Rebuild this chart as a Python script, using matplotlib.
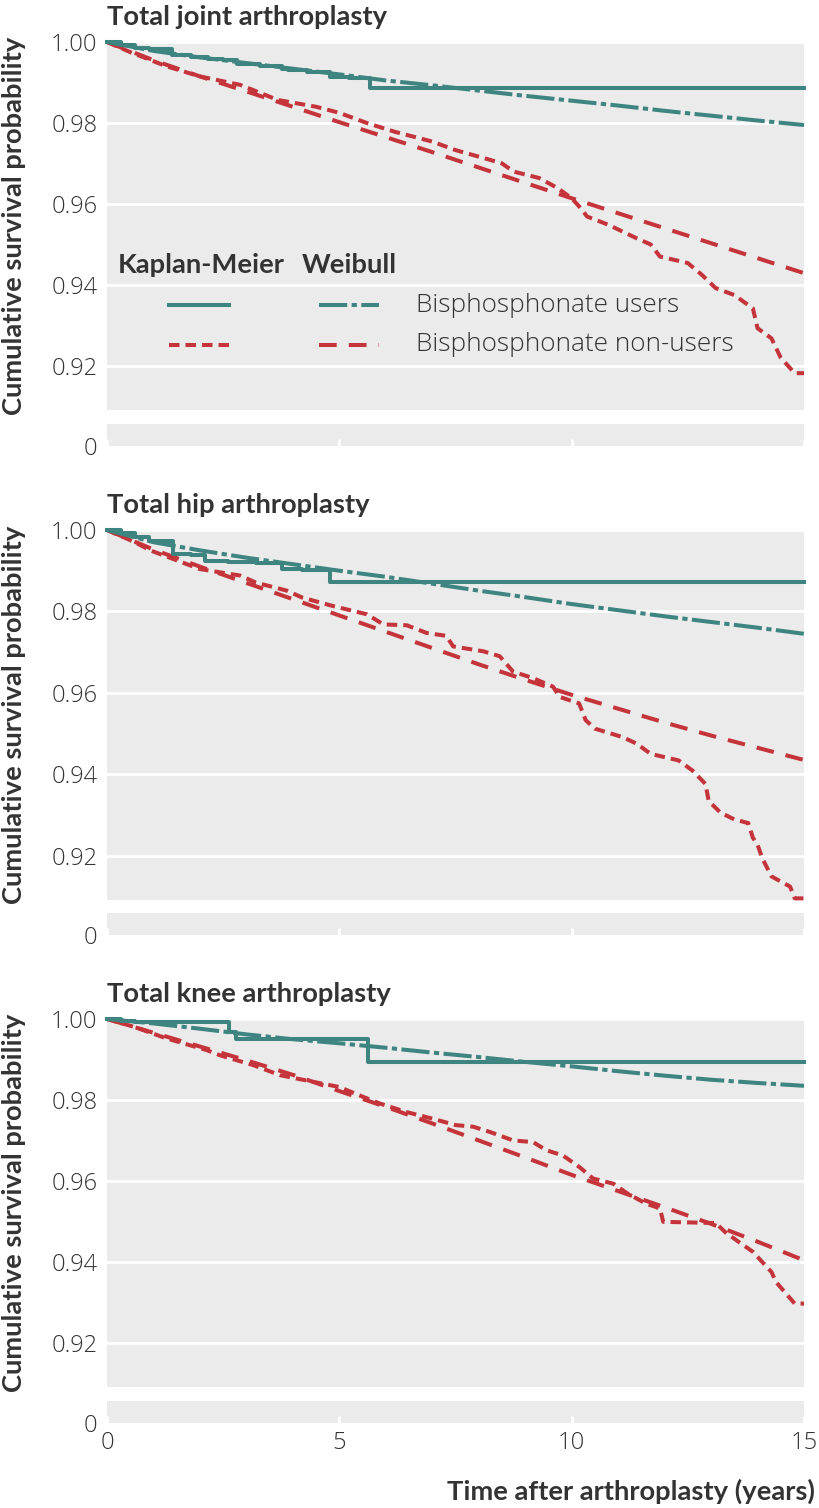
import matplotlib
matplotlib.use("Agg")
import matplotlib.pyplot as plt
from matplotlib.lines import Line2D

# ---------------- data ----------------
panel_titles = ["Total joint arthroplasty", "Total hip arthroplasty", "Total knee arthroplasty"]
series_labels = ["Bisphosphonate users", "Bisphosphonate non-users"]
method_labels = ["Kaplan-Meier", "Weibull"]
y_ticks = [0.92, 0.94, 0.96, 0.98, 1.00]
x_ticks = [0, 5, 10, 15]

# Kaplan-Meier, bisphosphonate users
km_users_t_joint = [0, 0.3, 0.6, 0.9, 1.39, 1.8, 2.17, 2.5, 2.79, 3.3, 3.76, 3.9, 4.3, 4.8, 5.2, 5.66, 15]
km_users_s_joint = [1.0, 0.9993, 0.9986, 0.9982, 0.9968, 0.9964, 0.9958, 0.9955, 0.9945, 0.9941, 0.9934,
                    0.9930, 0.9927, 0.9914, 0.9910, 0.9886, 0.9886]
km_users_t_hip = [0, 0.3, 0.6, 0.9, 1.43, 1.8, 2.11, 2.6, 3.2, 3.76, 4.2, 4.8, 15]
km_users_s_hip = [1.0, 0.9992, 0.9982, 0.9972, 0.9941, 0.9938, 0.9925, 0.9922, 0.9920, 0.9904, 0.9902,
                  0.9872, 0.9872]
km_users_t_knee = [0, 0.3, 0.6, 2.62, 2.77, 5.62, 15]
km_users_s_knee = [1.0, 0.9996, 0.9993, 0.9969, 0.9950, 0.9895, 0.9895]

# Kaplan-Meier, bisphosphonate non-users
km_non_t_joint = [0, 0.5, 1.28, 2.0, 2.87, 3.67, 4.5, 5.0, 5.59, 6.2, 7.0, 7.5, 8.24, 8.5, 8.75, 9.3, 9.7,
                  10.0, 10.2, 10.33, 10.8, 11.4, 11.7, 11.9, 12.5, 12.8, 13.1, 13.5, 13.9, 14.0, 14.3,
                  14.4, 14.5, 14.8, 15]
km_non_s_joint = [1.0, 0.9975, 0.994, 0.9915, 0.9894, 0.9857, 0.984, 0.9825, 0.980, 0.9778, 0.9754, 0.9733,
                  0.9709, 0.970, 0.968, 0.9664, 0.9639, 0.9614, 0.9589, 0.9569, 0.9548, 0.9515, 0.950,
                  0.947, 0.9454, 0.9425, 0.9392, 0.9375, 0.9342, 0.9293, 0.9268, 0.9244, 0.922, 0.9182,
                  0.9182]
km_non_t_hip = [0, 0.6, 0.93, 2.0, 2.87, 3.2, 3.87, 4.2, 4.87, 5.59, 5.95, 6.45, 6.88, 7.3, 7.45, 8.1,
                8.45, 8.74, 9.17, 9.6, 9.74, 10.16, 10.3, 10.5, 11.1, 11.4, 11.7, 12.3, 12.6, 12.88,
                12.95, 13.2, 13.5, 13.8, 13.9, 14.0, 14.1, 14.3, 14.7, 14.8, 15]
km_non_s_hip = [1.0, 0.997, 0.995, 0.9904, 0.9888, 0.9871, 0.9851, 0.9834, 0.9813, 0.9793, 0.9768,
                0.9766, 0.9747, 0.974, 0.9714, 0.9702, 0.969, 0.9652, 0.9636, 0.9615, 0.959, 0.9574,
                0.9533, 0.9512, 0.9491, 0.9475, 0.945, 0.9434, 0.9409, 0.9376, 0.9334, 0.9306, 0.9289,
                0.928, 0.9244, 0.9227, 0.9194, 0.9149, 0.9124, 0.9095, 0.9095]
km_non_t_knee = [0, 0.6, 1.28, 2.15, 2.44, 3.15, 3.73, 5.0, 5.44, 5.88, 6.45, 7.0, 7.5, 7.88, 8.24,
                 8.74, 9.17, 9.45, 9.81, 10.17, 10.46, 10.9, 11.2, 11.6, 11.9, 11.97, 13.1, 13.3, 13.6,
                 13.9, 14.3, 14.4, 14.8, 15]
km_non_s_knee = [1.0, 0.998, 0.9952, 0.9923, 0.991, 0.9886, 0.9861, 0.9832, 0.9811, 0.9791, 0.977,
                 0.9754, 0.9738, 0.9734, 0.9721, 0.970, 0.9696, 0.9676, 0.9663, 0.9634, 0.9606, 0.9593,
                 0.9569, 0.9544, 0.9532, 0.9499, 0.9496, 0.9474, 0.9449, 0.9425, 0.9375, 0.935, 0.9297,
                 0.9297]

# Weibull fits (read at whole years 0..15)
weib_t = list(range(16))
weib_users_joint = [1.0, 0.9978, 0.9962, 0.9948, 0.9934, 0.9920, 0.9905, 0.9893, 0.9880, 0.9867, 0.9855,
                    0.9843, 0.9830, 0.9818, 0.9806, 0.9795]
weib_non_joint = [1.0, 0.9955, 0.9915, 0.9878, 0.9840, 0.9802, 0.9765, 0.9728, 0.9690, 0.9652, 0.9614,
                  0.9577, 0.9540, 0.9503, 0.9466, 0.9429]
weib_users_hip = [1.0, 0.9970, 0.9950, 0.9932, 0.9916, 0.9900, 0.9885, 0.9868, 0.9851, 0.9835, 0.9818,
                  0.9803, 0.9788, 0.9774, 0.9760, 0.9745]
weib_non_hip = [1.0, 0.9952, 0.9910, 0.9870, 0.9830, 0.9790, 0.9750, 0.9710, 0.9670, 0.9632, 0.9595,
                0.9561, 0.9527, 0.9495, 0.9465, 0.9435]
weib_users_knee = [1.0, 0.9989, 0.9976, 0.9962, 0.9950, 0.9940, 0.9929, 0.9917, 0.9906, 0.9894, 0.9883,
                   0.9871, 0.9860, 0.9850, 0.9842, 0.9835]
weib_non_knee = [1.0, 0.9966, 0.9932, 0.9898, 0.9862, 0.9822, 0.9783, 0.9742, 0.9700, 0.9658, 0.9615,
                 0.9575, 0.9535, 0.9494, 0.9450, 0.9404]

panels = [
    (km_users_t_joint, km_users_s_joint, km_non_t_joint, km_non_s_joint, weib_users_joint, weib_non_joint),
    (km_users_t_hip, km_users_s_hip, km_non_t_hip, km_non_s_hip, weib_users_hip, weib_non_hip),
    (km_users_t_knee, km_users_s_knee, km_non_t_knee, km_non_s_knee, weib_users_knee, weib_non_knee),
]

# ---------------- style ----------------
TEAL = "#3E8480"
RED = "#C4343A"
BG = "#EBEBEB"
TXT = "#333333"
REG = "Open Sans"
BOLD = "Lato"
LW = 2.9
BOLD_SIZE = 19.7
TICK_SIZE = 17
LEG_SIZE = 18.8
ls_km_users = "-"
ls_km_non = (0, (2.6, 1.5))
ls_wb_users = (0, (7.0, 1.1, 1.3, 1.1))
ls_wb_non = (0, (4.4, 3.0))

W, H = 820, 1508
fig = plt.figure(figsize=(W / 100, H / 100), dpi=100)

def fx(px):
    return px / W

def fy(py):
    return 1 - py / H

left, right = 107, 804
# (main top, main bottom, strip top, strip bottom) in pixels
geoms = [(42, 410, 424, 446), (530, 900, 913, 935), (1019, 1387, 1401, 1423)]

for i, (geo, data, title) in enumerate(zip(geoms, panels, panel_titles)):
    mt, mb, st, sb = geo
    ax = fig.add_axes([fx(left), fy(mb), fx(right - left), (mb - mt) / H])
    sx = fig.add_axes([fx(left), fy(sb), fx(right - left), (sb - st) / H])
    ku_t, ku_s, kn_t, kn_s, wu, wn = data

    for a in (ax, sx):
        a.set_facecolor(BG)
        for sp in a.spines.values():
            sp.set_visible(False)
        a.set_xlim(0, 15)

    ax.set_ylim(0.9091, 1.0)
    ax.set_yticks(y_ticks)
    ax.set_yticklabels([f"{v:.2f}" for v in y_ticks])
    ax.set_xticks([])
    ax.tick_params(axis="y", length=0, pad=7, labelsize=TICK_SIZE, labelcolor=TXT)
    for lab in ax.get_yticklabels():
        lab.set_fontfamily(REG)
        lab.set_fontweight("light")
    ax.grid(axis="y", color="white", lw=2.0)
    ax.set_axisbelow(True)

    ax.plot(weib_t, wn, color=RED, lw=LW, ls=ls_wb_non, clip_on=False, zorder=3)
    ax.plot(kn_t, kn_s, color=RED, lw=LW, ls=ls_km_non, clip_on=False, zorder=4)
    ax.plot(weib_t, wu, color=TEAL, lw=LW, ls=ls_wb_users, clip_on=False, zorder=5)
    ax.plot(ku_t, ku_s, color=TEAL, lw=LW, ls=ls_km_users, drawstyle="steps-post", clip_on=False, zorder=6)

    ax.annotate(title, xy=(0, 1), xycoords="axes fraction", xytext=(0, 12.5), textcoords="offset points",
                ha="left", va="baseline", fontsize=BOLD_SIZE, fontweight="bold", family=BOLD, color=TXT)

    # strip (broken axis down to 0)
    sx.set_ylim(0, 1)
    sx.set_yticks([0])
    sx.set_yticklabels(["0"])
    sx.tick_params(axis="y", length=0, pad=7, labelsize=TICK_SIZE, labelcolor=TXT)
    sx.set_xticks(x_ticks)
    sx.tick_params(axis="x", direction="in", length=5, width=2, color="white",
                   labelsize=TICK_SIZE, labelcolor=TXT, pad=6)
    if i < 2:
        sx.set_xticklabels([])
    for lab in sx.get_yticklabels() + sx.get_xticklabels():
        lab.set_fontfamily(REG)
        lab.set_fontweight("light")

    # y label centered on main axes
    fig.text(fx(14), fy((mt + mb) / 2), "Cumulative survival probability", rotation=90,
             ha="center", va="center", fontsize=BOLD_SIZE, fontweight="bold", family=BOLD, color=TXT)

    if i == 0:
        # custom legend
        tr = ax.transAxes
        ax.text(0.135, 0.372, method_labels[0], transform=tr, ha="center", va="baseline",
                fontsize=BOLD_SIZE, fontweight="bold", family=BOLD, color=TXT)
        ax.text(0.347, 0.372, method_labels[1], transform=tr, ha="center", va="baseline",
                fontsize=BOLD_SIZE, fontweight="bold", family=BOLD, color=TXT)
        rows = [(0.285, TEAL, ls_km_users, ls_wb_users, series_labels[0]),
                (0.177, RED, ls_km_non, ls_wb_non, series_labels[1])]
        for yy, col, lk, lw_, lab in rows:
            ax.add_line(Line2D([0.089, 0.175], [yy, yy], transform=tr, color=col, lw=LW, ls=lk))
            ax.add_line(Line2D([0.304, 0.390], [yy, yy], transform=tr, color=col, lw=LW, ls=lw_))
            ax.text(0.443, yy, lab, transform=tr, ha="left", va="center", fontsize=LEG_SIZE,
                    family=REG, fontweight="light", color=TXT)

fig.text(fx(815), fy(1500), "Time after arthroplasty (years)", ha="right", va="baseline",
         fontsize=BOLD_SIZE, fontweight="bold", family=BOLD, color=TXT)

fig.savefig("out.png", dpi=100, facecolor="white")
